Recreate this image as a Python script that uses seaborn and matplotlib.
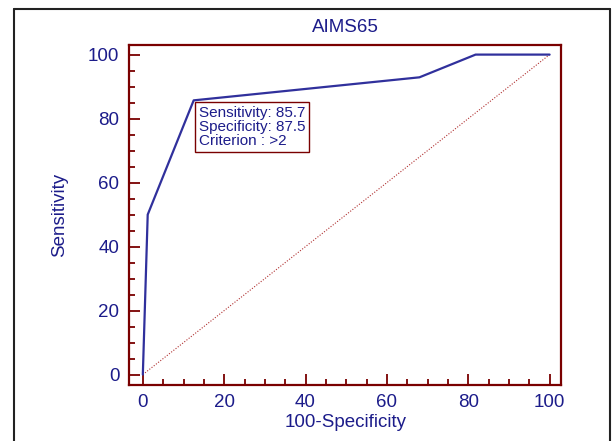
import matplotlib
matplotlib.use('Agg')
import matplotlib.pyplot as plt
import seaborn as sns
import pandas as pd
from matplotlib.lines import Line2D
from matplotlib.ticker import MultipleLocator

# ROC points
fpr = [0, 1.2, 12.5, 68.0, 81.8, 100]          # 100-Specificity
tpr = [0, 50.0, 85.7, 92.9, 100, 100]          # Sensitivity
diag = [0, 100]
x_ticks = [0, 20, 40, 60, 80, 100]
y_ticks = [0, 20, 40, 60, 80, 100]
title = 'AIMS65'
note = 'Sensitivity: 85.7\nSpecificity: 87.5\nCriterion : >2'

roc_df = pd.DataFrame({'fpr': fpr, 'tpr': tpr})
diag_df = pd.DataFrame({'x': diag, 'y': diag})

sns.set_style('white')
plt.rcParams['font.family'] = ['Liberation Sans', 'DejaVu Sans']

navy = '#1c1c8a'
maroon = '#7a0000'

fig = plt.figure(figsize=(6.14, 4.41), dpi=100)
ax = fig.add_axes([129 / 614, 1 - 384.5 / 441, 432 / 614, 339.5 / 441])

# diagonal reference line
sns.lineplot(data=diag_df, x='x', y='y', ax=ax, color='#b03030',
             linestyle=(0, (1, 1.5)), linewidth=0.8, sort=False, estimator=None)
# ROC curve
sns.lineplot(data=roc_df, x='fpr', y='tpr', ax=ax, color='#30309c',
             linewidth=1.6, sort=False, estimator=None)

ax.set_xlim(-3.4, 102.8)
ax.set_ylim(-3.1, 103)
ax.set_xticks(x_ticks)
ax.set_yticks(y_ticks)
ax.xaxis.set_minor_locator(MultipleLocator(5))
ax.yaxis.set_minor_locator(MultipleLocator(5))

for s in ax.spines.values():
    s.set_visible(True)
    s.set_color(maroon)
    s.set_linewidth(1.6)

ax.tick_params(which='both', direction='in', color=maroon, width=1.3,
               labelcolor=navy, labelsize=13.5, bottom=True, left=True)
ax.tick_params(which='major', length=8, pad=7)
ax.tick_params(which='minor', length=4)

ax.set_title(title, color=navy, fontsize=13.5, pad=9)
ax.set_xlabel('100-Specificity', color=navy, fontsize=13.5, va='top')
ax.set_ylabel('Sensitivity', color=navy, fontsize=13.5, va='center')
ax.xaxis.set_label_coords(0.501, -0.088)
ax.yaxis.set_label_coords(-0.16, 0.5)

ax.text(13.7, 84.0, note, color=navy, fontsize=11, va='top', ha='left',
        linespacing=1.0,
        bbox=dict(boxstyle='square,pad=0.25', facecolor='white',
                  edgecolor=maroon, linewidth=1))

# outer frame of the picture
fx0, fx1, fy1 = 14 / 614, 610 / 614, 1 - 9 / 441
for xs, ys in [([fx0, fx0], [0, fy1]), ([fx0, fx1], [fy1, fy1]), ([fx1, fx1], [0, fy1])]:
    fig.add_artist(Line2D(xs, ys, transform=fig.transFigure, color='#222222', linewidth=1.5))

fig.savefig('out.png', dpi=100)
